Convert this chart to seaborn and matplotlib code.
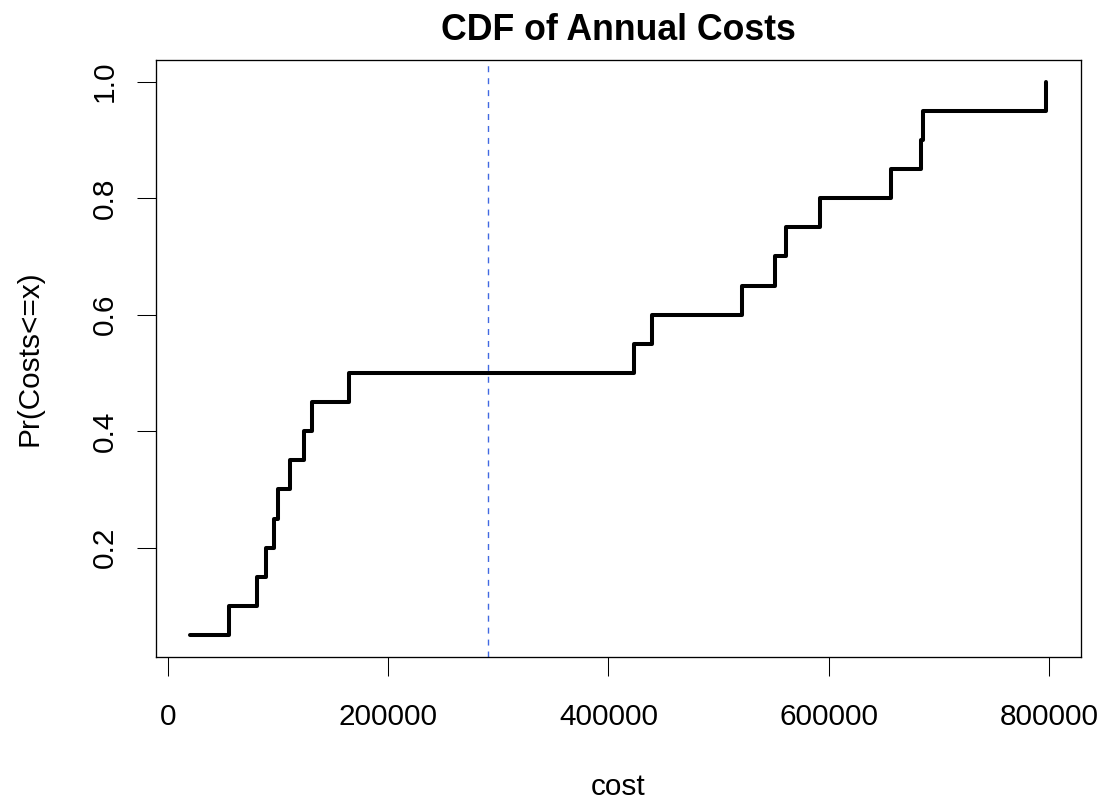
import numpy as np
import pandas as pd
import seaborn as sns
import matplotlib
matplotlib.use("Agg")
import matplotlib.pyplot as plt

costs = [20000, 55400, 81100, 89000, 96500, 99900, 111100, 123500, 130500, 164100,
         423400, 439700, 520900, 550900, 560900, 592000, 656200, 683700, 685800, 797800]
ref_line = 291000  # dashed blue reference line

x_ticks = [0, 200000, 400000, 600000, 800000]
y_ticks = [0.2, 0.4, 0.6, 0.8, 1.0]
y_ticklabels = ["0.2", "0.4", "0.6", "0.8", "1.0"]

sns.set_style("white")
plt.rcParams['font.family'] = ['Liberation Sans', 'DejaVu Sans']
plt.rcParams['text.color'] = 'black'
plt.rcParams['axes.labelcolor'] = 'black'

df = pd.DataFrame({"cost": np.sort(costs)})
df["p"] = np.arange(1, len(df) + 1) / len(df)

fig = plt.figure(figsize=(11.02, 8.02), dpi=100)
ax = fig.add_axes([155.7 / 1102, 1 - 657.2 / 802, 925 / 1102, 597.6 / 802])

sns.lineplot(data=df, x="cost", y="p", ax=ax, color="black", linewidth=2.9,
             drawstyle="steps-post", estimator=None, sort=True)
for ln in ax.lines:
    ln.set_solid_joinstyle("round")
    ln.set_solid_capstyle("round")

ax.axvline(ref_line, color="royalblue", linewidth=1.0, dashes=(4.3, 4.3))

# R-style 4% padding
xr = df["cost"].max() - df["cost"].min()
ax.set_xlim(df["cost"].min() - 0.04 * xr, df["cost"].max() + 0.04 * xr)
yr = df["p"].max() - df["p"].min()
ax.set_ylim(df["p"].min() - 0.04 * yr, df["p"].max() + 0.04 * yr)

ax.set_xticks(x_ticks)
ax.set_xticklabels([str(t) for t in x_ticks])
ax.set_yticks(y_ticks)
ax.set_yticklabels(y_ticklabels, rotation=90, va="center")

for s in ax.spines.values():
    s.set_visible(True)
    s.set_color("black")
    s.set_linewidth(0.95)

ax.tick_params(axis="both", which="major", direction="out", length=13.5, width=0.75,
               color="black", labelsize=21.4, labelcolor="black", bottom=True, left=True)
ax.tick_params(axis="x", pad=19.4)
ax.tick_params(axis="y", pad=13)

ax.set_xlabel("cost", fontsize=21.4, va="baseline", color="black")
ax.xaxis.set_label_coords(0.5, (657.2 - 795) / 597.6)
ax.set_ylabel("Pr(Costs<=x)", fontsize=21.4, va="center", color="black")
ax.yaxis.set_label_coords((30 - 155.7) / 925, 0.5)

ax.set_title("CDF of Annual Costs", fontsize=25.7, fontweight="bold", va="center",
             color="black", y=1 + 29.6 / 597.6, pad=0)

fig.savefig("out.png", dpi=100, facecolor="white")
